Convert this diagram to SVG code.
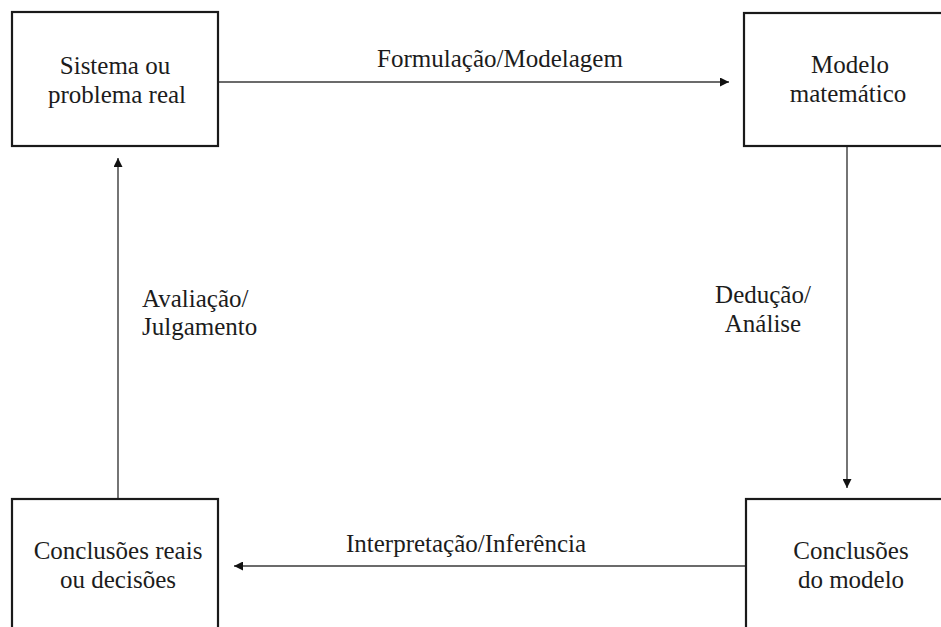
<svg xmlns="http://www.w3.org/2000/svg" width="941" height="627" viewBox="0 0 941 627">
  <defs>
    <marker id="arrow" viewBox="0 0 10 10" refX="10" refY="5" markerWidth="10" markerHeight="9" markerUnits="userSpaceOnUse" orient="auto">
      <path d="M0,0 L10,5 L0,10 Z" fill="#111"/>
    </marker>
  </defs>
  <style>
    .box { fill: #fff; stroke: #1a1a1a; stroke-width: 2.2; }
    .edge { fill: none; stroke: #3a3a3a; stroke-width: 1.4; marker-end: url(#arrow); }
  </style>
  <rect width="941" height="627" fill="#fff"/>

  <!-- arrows between the four stages, with their labels -->
  <g id="connectors">
    <line class="edge" x1="218" y1="82" x2="729" y2="82"/>
    <line class="edge" x1="847" y1="146" x2="847" y2="488"/>
    <line class="edge" x1="746" y1="566" x2="234" y2="566"/>
    <line class="edge" x1="118" y1="499" x2="118" y2="158"/>
    <text style="font-family:'Liberation Serif',serif;font-size:25px;fill:#1c1c1c;text-anchor:middle" x="500" y="67">Formulação/Modelagem</text>
    <text style="font-family:'Liberation Serif',serif;font-size:25px;fill:#1c1c1c;text-anchor:middle" x="763" y="303">Dedução/</text>
    <text style="font-family:'Liberation Serif',serif;font-size:25px;fill:#1c1c1c;text-anchor:middle" x="763" y="332">Análise</text>
    <text style="font-family:'Liberation Serif',serif;font-size:25px;fill:#1c1c1c;text-anchor:middle" x="466" y="552">Interpretação/Inferência</text>
    <text style="font-family:'Liberation Serif',serif;font-size:25px;fill:#1c1c1c" x="142" y="307">Avaliação/</text>
    <text style="font-family:'Liberation Serif',serif;font-size:25px;fill:#1c1c1c" x="142" y="335">Julgamento</text>
  </g>

  <g id="sistema">
    <rect class="box" x="12" y="12" width="206" height="134"/>
    <text style="font-family:'Liberation Serif',serif;font-size:25px;fill:#1c1c1c;text-anchor:middle" x="115" y="74">Sistema ou</text>
    <text style="font-family:'Liberation Serif',serif;font-size:25px;fill:#1c1c1c;text-anchor:middle" x="117" y="103">problema real</text>
  </g>

  <g id="modelo">
    <rect class="box" x="744" y="13" width="210" height="133"/>
    <text style="font-family:'Liberation Serif',serif;font-size:25px;fill:#1c1c1c;text-anchor:middle" x="850" y="73">Modelo</text>
    <text style="font-family:'Liberation Serif',serif;font-size:25px;fill:#1c1c1c;text-anchor:middle" x="848" y="102">matemático</text>
  </g>

  <g id="conclusoes-modelo">
    <rect class="box" x="746" y="499" width="210" height="140"/>
    <text style="font-family:'Liberation Serif',serif;font-size:25px;fill:#1c1c1c;text-anchor:middle" x="851" y="559">Conclusões</text>
    <text style="font-family:'Liberation Serif',serif;font-size:25px;fill:#1c1c1c;text-anchor:middle" x="851" y="588">do modelo</text>
  </g>

  <g id="conclusoes-reais">
    <rect class="box" x="12" y="499" width="206" height="140"/>
    <text style="font-family:'Liberation Serif',serif;font-size:25px;fill:#1c1c1c;text-anchor:middle" x="118" y="559">Conclusões reais</text>
    <text style="font-family:'Liberation Serif',serif;font-size:25px;fill:#1c1c1c;text-anchor:middle" x="118" y="588">ou decisões</text>
  </g>
</svg>
